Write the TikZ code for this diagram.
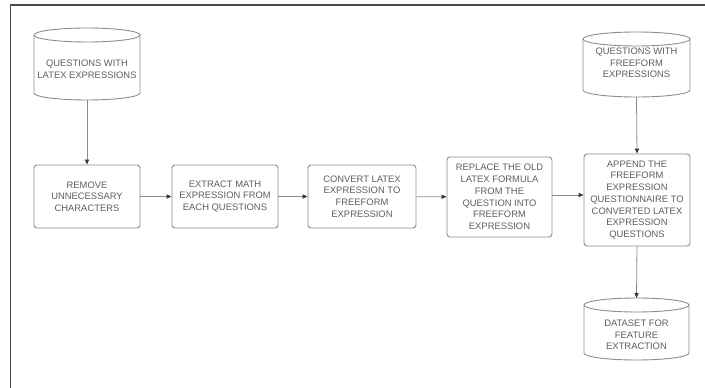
\documentclass[tikz,border=0pt]{standalone}
\usepackage{fontspec}
\setmainfont{Liberation Sans}
\usetikzlibrary{arrows.meta,calc}

\definecolor{edgegray}{HTML}{8C8C8C}
\definecolor{inkgray}{HTML}{5E5E5E}
\definecolor{tipgray}{HTML}{3A3A3A}
\definecolor{framegray}{HTML}{4A4A4A}

\tikzset{
  stepbox/.style={draw=edgegray, line width=0.9pt, rounded corners=3pt,
    align=center, text=inkgray, inner sep=2pt},
  drumtext/.style={align=center, text=inkgray, inner sep=1pt},
  drumline/.style={draw=edgegray, line width=0.9pt},
  flow/.style={draw=edgegray, line width=0.8pt,
    -{Triangle[length=5pt,width=4.2pt,color=tipgray]}},
  every node/.style={font=\fontsize{9.4}{11.7}\selectfont},
}

% cylinder outline around a text node:
% #1 name, #2 half width, #3 distance to top, #4 distance to bottom
\newcommand\drum[4]{%
  \draw[drumline] ($(#1.center)+(-#2,#3-7)$) -- ($(#1.center)+(-#2,-#4+7)$)
    arc[start angle=180, end angle=360, x radius=#2, y radius=7]
    -- ($(#1.center)+(#2,#3-7)$);
  \draw[drumline] ($(#1.center)+(0,#3-7)$) ellipse[x radius=#2, y radius=7];
  \coordinate (#1-top) at ($(#1.center)+(0,#3)$);
  \coordinate (#1-bot) at ($(#1.center)+(0,-#4)$);
}

\begin{document}
\begin{tikzpicture}[x=1pt,y=1pt]
\useasboundingbox (0,0) rectangle (705,388);

% page frame
\draw[framegray, line width=1.1pt] (705,383) -- (10.5,383) -- (10.5,0);

% data stores
\node[drumtext] (srcLatex) at (87,318.5) {QUESTIONS WITH\\LATEX EXPRESSIONS};
\drum{srcLatex}{53}{41.5}{30.5}
\node[drumtext] (srcFree) at (636.5,325) {QUESTIONS WITH\\FREEFORM\\EXPRESSIONS};
\drum{srcFree}{53.5}{31}{34}
\node[drumtext] (dataset) at (636.5,53) {DATASET FOR\\FEATURE\\EXTRACTION};
\drum{dataset}{52.5}{37}{25}

% processing steps
\node[stepbox, minimum width=106pt, minimum height=63pt] (clean) at (87,191.5)
  {REMOVE\\UNNECESSARY\\CHARACTERS};
\node[stepbox, minimum width=106pt, minimum height=63pt] (extract) at (225,191.5)
  {EXTRACT MATH\\EXPRESSION FROM\\EACH QUESTIONS};
\node[stepbox, minimum width=108pt, minimum height=63pt] (convert) at (362,191.5)
  {CONVERT LATEX\\EXPRESSION TO\\FREEFORM\\EXPRESSION};
\node[stepbox, minimum width=105pt, minimum height=80pt] (replace) at (499.5,191)
  {REPLACE THE OLD\\LATEX FORMULA\\FROM THE\\QUESTION INTO\\FREEFORM\\EXPRESSION};
\node[stepbox, minimum width=106pt, minimum height=92pt] (append) at (637,188)
  {APPEND THE\\FREEFORM\\EXPRESSION\\QUESTIONNAIRE TO\\CONVERTED LATEX\\EXPRESSION\\QUESTIONS};

% connectors
\draw[flow] (srcLatex-bot) -- (clean.north);
\draw[flow] (clean) -- (extract);
\draw[flow] (extract) -- (convert);
\draw[flow] (convert) -- (replace);
\draw[flow] ([yshift=2pt]replace.east) -- ([yshift=2pt]replace.east -| append.west);
\draw[flow] (srcFree-bot) -- (append.north);
\draw[flow] (append.south) -- (dataset-top);
\end{tikzpicture}
\end{document}
